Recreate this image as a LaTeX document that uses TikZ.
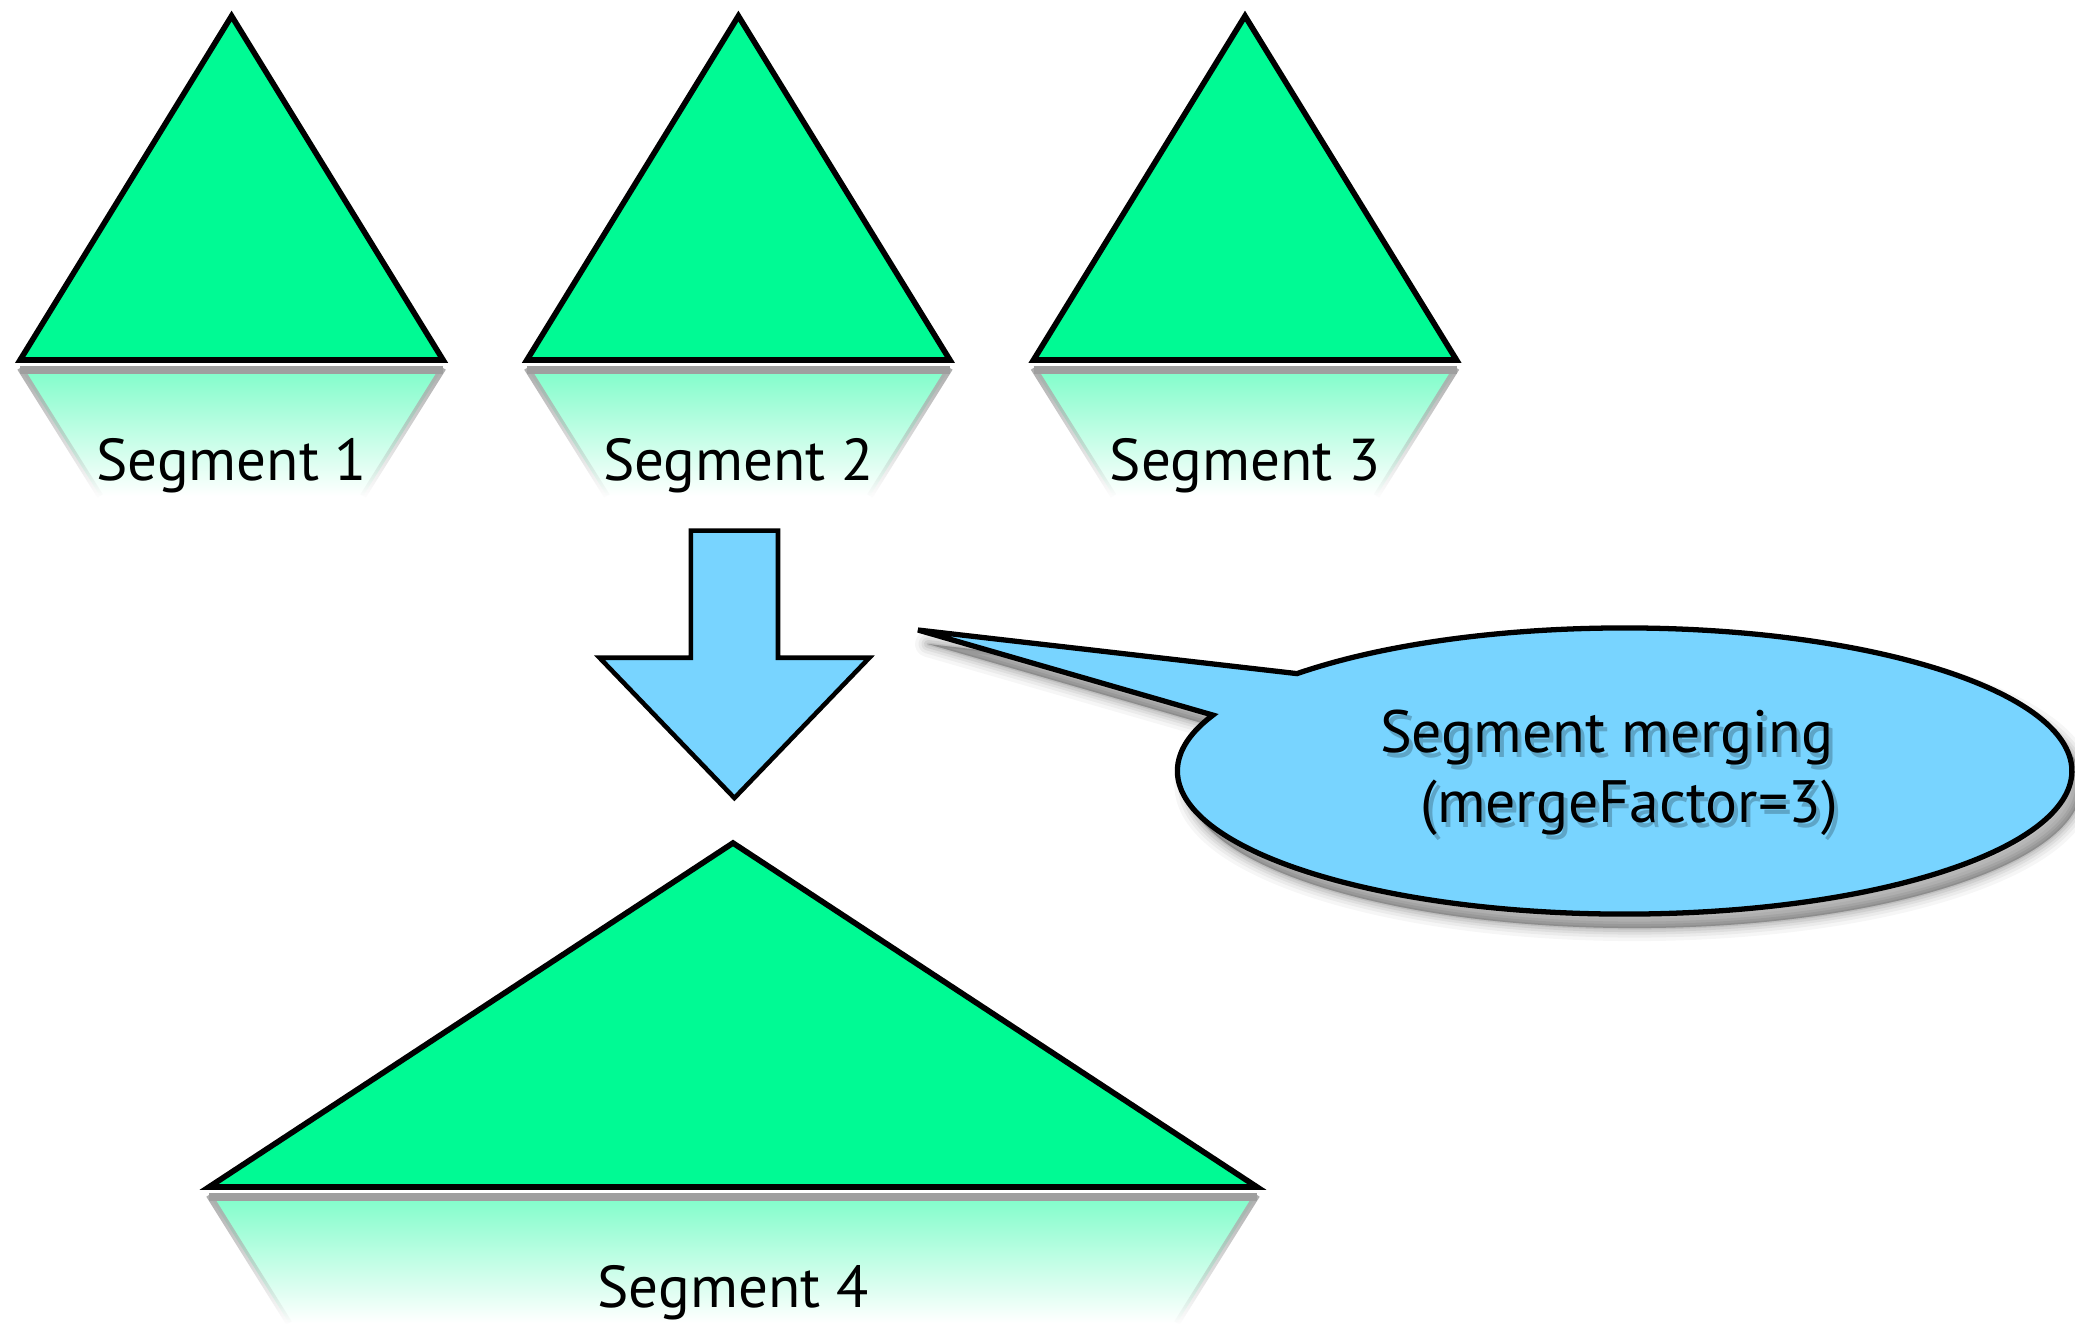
\documentclass[tikz,border=0pt]{standalone}
\usepackage{fontspec}
\setmainfont{PT Sans}
\usetikzlibrary{fadings}
\definecolor{segGreen}{RGB}{0,250,148}
\definecolor{callBlue}{RGB}{120,212,255}
\newcommand\segshape[6]{%
  \shade[top color=segGreen!50!white, bottom color=white]
    ({#2-#4},{#5+8}) -- ({#2+#4},{#5+8}) -- ({#2+#4-80},{#5+136}) -- ({#2-#4+80},{#5+136}) -- cycle;
  \draw[reflEdge, path fading=south] ({#2-#4},{#5+8}) -- ({#2-#4+80},{#5+136});
  \draw[reflEdge, path fading=south] ({#2+#4},{#5+8}) -- ({#2+#4-80},{#5+136});
  \draw[gray!75, line width=2.4pt] ({#2-#4},{#5+10}) -- ({#2+#4},{#5+10});
  \draw[tri] (#2,#3) -- ({#2+#4},#5) -- ({#2-#4},#5) -- cycle;
  \node[lbl] (#1) at (#2,{#5+106}) {#6};
}
\newcommand\calloutpath{(918,630) -- (1297,673.6) arc[start angle=137.1, end angle=-203, x radius=4.47cm, y radius=1.43cm] -- cycle}
\begin{document}
\begin{tikzpicture}[x=0.01cm,y=-0.01cm,
  tri/.style={fill=segGreen, draw=black, line width=1.6pt, line join=miter},
  reflEdge/.style={draw=gray!65, line width=1.8pt},
  lbl/.style={font=\fontsize{16.8}{20}\selectfont, text=black, inner sep=0pt},
  calltext/.style={font=\fontsize{17}{19}\selectfont, text=black, inner sep=0pt},
  callshadowtext/.style={font=\fontsize{17}{19}\selectfont, text=black, opacity=0.22, inner sep=0pt},
  bigarrow/.style={fill=callBlue, draw=black, line width=1.3pt, line join=miter},
  callout/.style={fill=callBlue, draw=black, line width=1.5pt, line join=miter}]
\useasboundingbox (0,0) rectangle (2075,1323);
\fill[white] (0,0) rectangle (2075,1323);

% segments
\segshape{s1}{231.6}{16}{211.5}{360}{Segment 1}
\segshape{s2}{738.4}{16}{211.5}{360}{Segment 2}
\segshape{s3}{1245}{16}{211.5}{360}{Segment 3}
\segshape{s4}{733}{843}{524}{1187}{Segment 4}

% merge arrow
\draw[bigarrow] (690.8,530.6) -- (778,530.6) -- (778,657.7) -- (869.4,657.7)
  -- (734.4,798) -- (599.5,657.7) -- (690.8,657.7) -- cycle;

% callout shadow (soft)
\foreach \w/\o in {26/0.035,19/0.045,13/0.055,8/0.065,3/0.08}{
  \filldraw[black, opacity=\o, line width=\w*0.01cm, line join=round, shift={(10,14)}] \calloutpath;
}
% callout
\draw[callout] \calloutpath;
\node[callshadowtext] (c1s) at (1611,743) {Segment merging};
\node[callshadowtext] (c2s) at (1633,813) {(mergeFactor=3)};
\node[calltext] (c1) at (1607,738) {Segment merging};
\node[calltext] (c2) at (1629,808) {(mergeFactor=3)};
\end{tikzpicture}
\end{document}
